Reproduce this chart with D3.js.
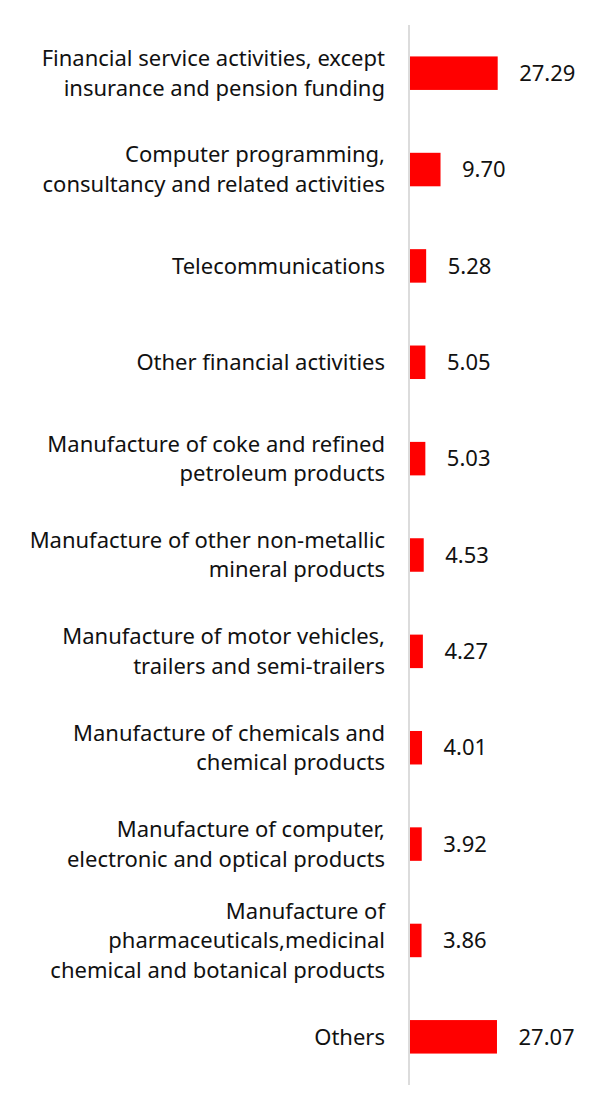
<!DOCTYPE html>
<html>
<head>
<meta charset="utf-8">
<script src="https://cdn.jsdelivr.net/npm/d3@7"></script>
<style>
  body { margin: 0; background: #fff; }
  text { font-family: "Noto Sans", sans-serif; fill: #111; }
</style>
</head>
<body>
<svg id="chart" width="616" height="1111"></svg>
<script>
// categories (each entry is the label lines)
const categories = [
  ["Financial service activities, except", "insurance and pension funding"],
  ["Computer programming,", "consultancy and related activities"],
  ["Telecommunications"],
  ["Other financial activities"],
  ["Manufacture of coke and refined", "petroleum products"],
  ["Manufacture of other non-metallic", "mineral products"],
  ["Manufacture of motor vehicles,", "trailers and semi-trailers"],
  ["Manufacture of chemicals and", "chemical products"],
  ["Manufacture of computer,", "electronic and optical products"],
  ["Manufacture of", "pharmaceuticals,medicinal", "chemical and botanical products"],
  ["Others"]
];
const values = [27.29, 9.70, 5.28, 5.05, 5.03, 4.53, 4.27, 4.01, 3.92, 3.86, 27.07];

const svg = d3.select("#chart");
const x0 = 409;
const fs = 22;

const x = d3.scaleLinear().domain([0, 30]).range([x0, x0 + 97.5]);
const y = d3.scaleBand().domain(d3.range(values.length)).range([25, 1085]);
const barH = 33.5;
const lineH = 29.5;

// axis line
svg.append("line")
  .attr("x1", x0).attr("x2", x0)
  .attr("y1", 25).attr("y2", 1085)
  .attr("stroke", "#dcdcdc")
  .attr("stroke-width", 2);

// bars
svg.selectAll("rect.bar").data(values).enter().append("rect")
  .attr("class", "bar")
  .attr("x", x0 + 1)
  .attr("y", (d, i) => y(i) + y.bandwidth() / 2 - barH / 2)
  .attr("width", d => x(d) - x0 - 1)
  .attr("height", barH)
  .attr("fill", "#ff0000");

// value labels
svg.selectAll("text.val").data(values).enter().append("text")
  .attr("class", "val")
  .attr("x", d => x(d) + 21.5)
  .attr("y", (d, i) => y(i) + y.bandwidth() / 2)
  .attr("dy", "0.35em")
  .attr("font-size", fs)
  .text(d => d.toFixed(2));

// category labels
const lab = svg.selectAll("text.cat").data(categories).enter().append("text")
  .attr("class", "cat")
  .attr("text-anchor", "end")
  .attr("font-size", fs)
  .attr("y", (d, i) => y(i) + y.bandwidth() / 2);

lab.selectAll("tspan").data(d => d.map((t, j) => ({t, j, n: d.length}))).enter().append("tspan")
  .attr("x", 385)
  .attr("dy", (d, j) => j === 0 ? (0.35 * fs - (d.n - 1) * lineH / 2) : lineH)
  .text(d => d.t);
</script>
</body>
</html>
